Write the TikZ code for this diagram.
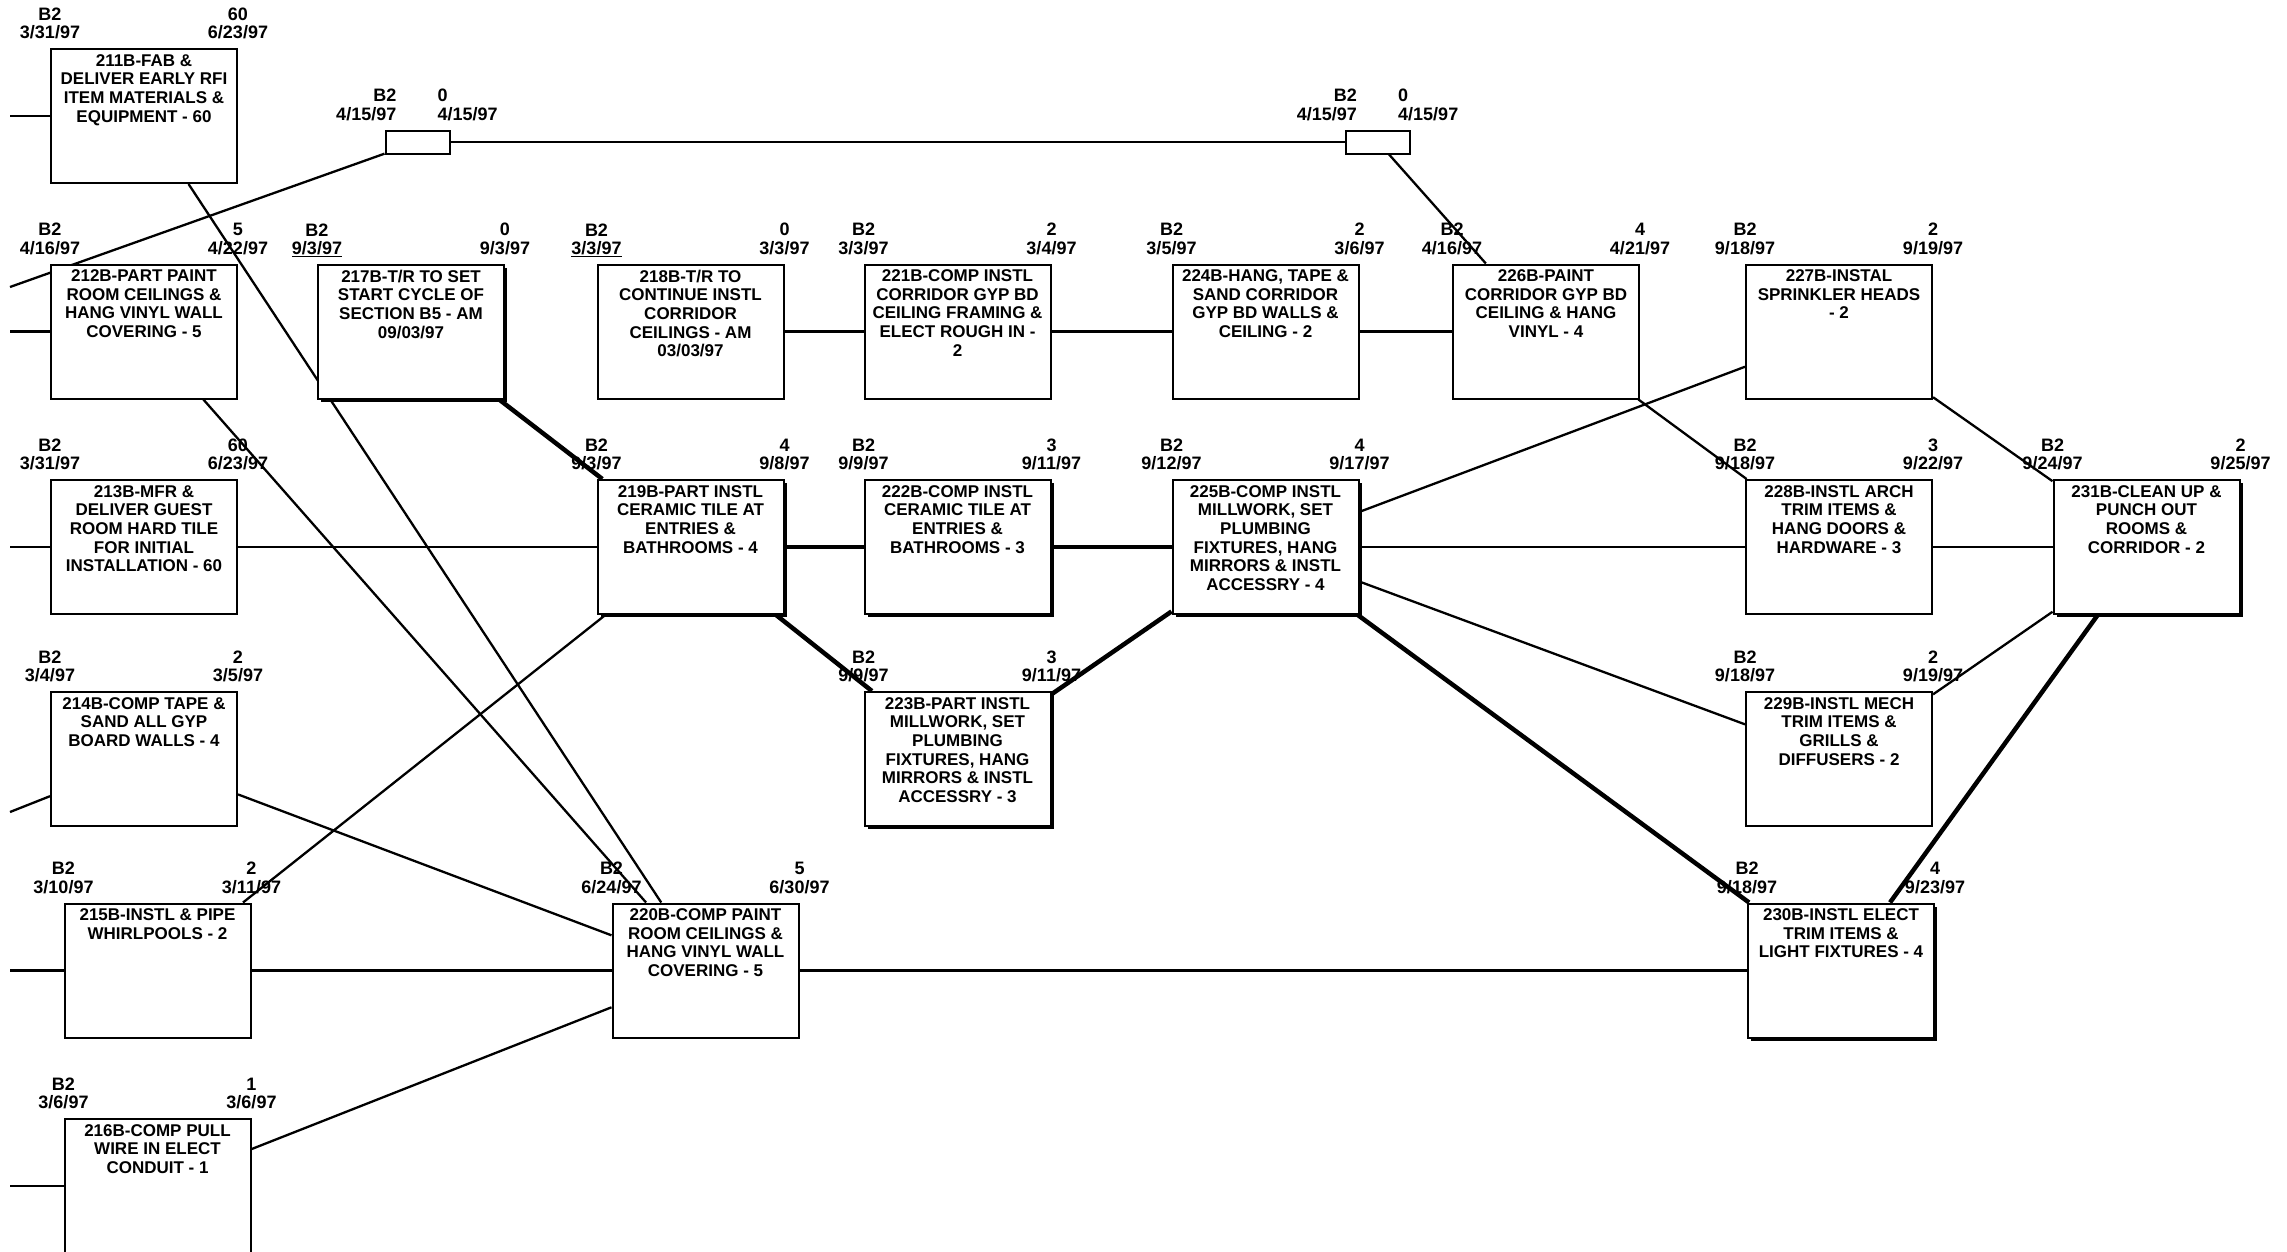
\documentclass[tikz,border=0pt]{standalone}
\usepackage{fontspec}
\setmainfont{Liberation Sans}
\usepackage{tikz}
\usetikzlibrary{shadows, backgrounds}

\begin{document}
\begin{tikzpicture}[x=1pt, y=-1pt]
    % Define styles
    \tikzstyle{act} = [rectangle, draw=black, fill=white, line width=2pt, minimum width=186pt, minimum height=134pt, inner sep=0pt]
    \tikzstyle{crit} = [act, drop shadow={fill=black, opacity=1, shadow xshift=3pt, shadow yshift=-3pt}]
    \tikzstyle{mile} = [rectangle, draw=black, fill=white, line width=2pt, minimum width=64pt, minimum height=23pt, inner sep=0pt]
    \tikzstyle{desc} = [anchor=north, align=center, inner sep=0pt, yshift=-6pt, font=\bfseries\fontsize{17}{18.7}\selectfont]
    \tikzstyle{datelbl} = [anchor=south, align=center, inner sep=0pt, yshift=8.5pt, font=\bfseries\fontsize{18}{18.7}\selectfont]
    \tikzstyle{rel} = [line width=2.3pt]
    \tikzstyle{critrel} = [line width=4.5pt]

    \useasboundingbox (0,0) rectangle (2287,1251);

    % Milestones
    \node[mile, label={[datelbl, anchor=south east, align=right, xshift=12pt]north west:{B2\\4/15/97}}, label={[datelbl, anchor=south west, align=left, xshift=-13pt]north east:{0\\4/15/97}}] (m1) at (417.5,142) {};
    \node[mile, label={[datelbl, anchor=south east, align=right, xshift=12pt]north west:{B2\\4/15/97}}, label={[datelbl, anchor=south west, align=left, xshift=-13pt]north east:{0\\4/15/97}}] (m2) at (1378,142) {};

    % Row 1
    \node[act, label={[desc]north:{211B-FAB \&\\DELIVER EARLY RFI\\ITEM MATERIALS \&\\EQUIPMENT - 60}}, label={[datelbl]north west:{B2\\3/31/97}}, label={[datelbl]north east:{60\\6/23/97}}] (a211) at (144,116) {};

    % Row 2
    \node[act, label={[desc]north:{212B-PART PAINT\\ROOM CEILINGS \&\\HANG VINYL WALL\\COVERING - 5}}, label={[datelbl]north west:{B2\\4/16/97}}, label={[datelbl]north east:{5\\4/22/97}}] (a212) at (144,331.5) {};
    \node[crit, label={[desc]north:{217B-T/R TO SET\\START CYCLE OF\\SECTION B5 - AM\\09/03/97}}, label={[datelbl]north west:{B2\\\smash{\underline{9/3/97}}}}, label={[datelbl]north east:{0\\9/3/97}}] (a217) at (411,331.5) {};
    \node[act, label={[desc]north:{218B-T/R TO\\CONTINUE INSTL\\CORRIDOR\\CEILINGS - AM\\03/03/97}}, label={[datelbl]north west:{B2\\\smash{\underline{3/3/97}}}}, label={[datelbl]north east:{0\\3/3/97}}] (a218) at (690.5,331.5) {};
    \node[act, label={[desc]north:{221B-COMP INSTL\\CORRIDOR GYP BD\\CEILING FRAMING \&\\ELECT ROUGH IN -\\2}}, label={[datelbl]north west:{B2\\3/3/97}}, label={[datelbl]north east:{2\\3/4/97}}] (a221) at (957.5,331.5) {};
    \node[act, label={[desc]north:{224B-HANG, TAPE \&\\SAND CORRIDOR\\GYP BD WALLS \&\\CEILING - 2}}, label={[datelbl]north west:{B2\\3/5/97}}, label={[datelbl]north east:{2\\3/6/97}}] (a224) at (1265.5,331.5) {};
    \node[act, label={[desc]north:{226B-PAINT\\CORRIDOR GYP BD\\CEILING \& HANG\\VINYL - 4}}, label={[datelbl]north west:{B2\\4/16/97}}, label={[datelbl]north east:{4\\4/21/97}}] (a226) at (1546,331.5) {};
    \node[act, label={[desc]north:{227B-INSTAL\\SPRINKLER HEADS\\- 2}}, label={[datelbl]north west:{B2\\9/18/97}}, label={[datelbl]north east:{2\\9/19/97}}] (a227) at (1839,331.5) {};

    % Row 3
    \node[act, label={[desc]north:{213B-MFR \&\\DELIVER GUEST\\ROOM HARD TILE\\FOR INITIAL\\INSTALLATION - 60}}, label={[datelbl]north west:{B2\\3/31/97}}, label={[datelbl]north east:{60\\6/23/97}}] (a213) at (144,547) {};
    \node[crit, label={[desc]north:{219B-PART INSTL\\CERAMIC TILE AT\\ENTRIES \&\\BATHROOMS - 4}}, label={[datelbl]north west:{B2\\9/3/97}}, label={[datelbl]north east:{4\\9/8/97}}] (a219) at (690.5,547) {};
    \node[crit, label={[desc]north:{222B-COMP INSTL\\CERAMIC TILE AT\\ENTRIES \&\\BATHROOMS - 3}}, label={[datelbl]north west:{B2\\9/9/97}}, label={[datelbl]north east:{3\\9/11/97}}] (a222) at (957.5,547) {};
    \node[crit, label={[desc]north:{225B-COMP INSTL\\MILLWORK, SET\\PLUMBING\\FIXTURES, HANG\\MIRRORS \& INSTL\\ACCESSRY - 4}}, label={[datelbl]north west:{B2\\9/12/97}}, label={[datelbl]north east:{4\\9/17/97}}] (a225) at (1265.5,547) {};
    \node[act, label={[desc]north:{228B-INSTL ARCH\\TRIM ITEMS \&\\HANG DOORS \&\\HARDWARE - 3}}, label={[datelbl]north west:{B2\\9/18/97}}, label={[datelbl]north east:{3\\9/22/97}}] (a228) at (1839,547) {};
    \node[crit, label={[desc]north:{231B-CLEAN UP \&\\PUNCH OUT\\ROOMS \&\\CORRIDOR - 2}}, label={[datelbl]north west:{B2\\9/24/97}}, label={[datelbl]north east:{2\\9/25/97}}] (a231) at (2146.5,547) {};

    % Row 4
    \node[act, label={[desc]north:{214B-COMP TAPE \&\\SAND ALL GYP\\BOARD WALLS - 4}}, label={[datelbl]north west:{B2\\3/4/97}}, label={[datelbl]north east:{2\\3/5/97}}] (a214) at (144,759) {};
    \node[crit, label={[desc]north:{223B-PART INSTL\\MILLWORK, SET\\PLUMBING\\FIXTURES, HANG\\MIRRORS \& INSTL\\ACCESSRY - 3}}, label={[datelbl]north west:{B2\\9/9/97}}, label={[datelbl]north east:{3\\9/11/97}}] (a223) at (957.5,759) {};
    \node[act, label={[desc]north:{229B-INSTL MECH\\TRIM ITEMS \&\\GRILLS \&\\DIFFUSERS - 2}}, label={[datelbl]north west:{B2\\9/18/97}}, label={[datelbl]north east:{2\\9/19/97}}] (a229) at (1839,759) {};

    % Row 5
    \node[act, label={[desc]north:{215B-INSTL \& PIPE\\WHIRLPOOLS - 2}}, label={[datelbl]north west:{B2\\3/10/97}}, label={[datelbl]north east:{2\\3/11/97}}] (a215) at (157.5,970.5) {};
    \node[act, label={[desc]north:{220B-COMP PAINT\\ROOM CEILINGS \&\\HANG VINYL WALL\\COVERING - 5}}, label={[datelbl]north west:{B2\\6/24/97}}, label={[datelbl]north east:{5\\6/30/97}}] (a220) at (705.5,970.5) {};
    \node[crit, label={[desc]north:{230B-INSTL ELECT\\TRIM ITEMS \&\\LIGHT FIXTURES - 4}}, label={[datelbl]north west:{B2\\9/18/97}}, label={[datelbl]north east:{4\\9/23/97}}] (a230) at (1841,970.5) {};

    % Row 6
    \node[act, label={[desc]north:{216B-COMP PULL\\WIRE IN ELECT\\CONDUIT - 1}}, label={[datelbl]north west:{B2\\3/6/97}}, label={[datelbl]north east:{1\\3/6/97}}] (a216) at (157.5,1186) {};

    % Links coming in from the left
    \coordinate (i211) at (10,116);
    \coordinate (im1) at (10,287);
    \coordinate (i212) at (10,331.5);
    \coordinate (i213) at (10,547);
    \coordinate (i214) at (10,812);
    \coordinate (i215) at (10,970.5);
    \coordinate (i216) at (10,1186);

    \begin{scope}[on background layer]
    % Plain links
    \draw[rel] (i211) -- (a211);
    \draw[rel] (im1) -- (m1);
    \draw[rel] (i212) -- (a212);
    \draw[rel] (i213) -- (a213);
    \draw[rel] (i214) -- (a214);
    \draw[rel] (i215) -- (a215);
    \draw[rel] (i216) -- (a216);
    \draw[rel] (m1) -- (m2);
    \draw[rel] (m2) -- (a226);
    \draw[rel] (a211) -- (a220);
    \draw[rel] (a212) -- (a220);
    \draw[rel] (a213) -- (a219);
    \draw[rel] (a214) -- (a220);
    \draw[rel] (a215) -- (a220);
    \draw[rel] (a215) -- (a219);
    \draw[rel] (a216) -- (a220);
    \draw[rel] (a218) -- (a221);
    \draw[rel] (a221) -- (a224);
    \draw[rel] (a224) -- (a226);
    \draw[rel] (a226) -- (a228);
    \draw[rel] (a225) -- (a227);
    \draw[rel] (a225) -- (a228);
    \draw[rel] (a225) -- (a229);
    \draw[rel] (a227) -- (a231);
    \draw[rel] (a228) -- (a231);
    \draw[rel] (a229) -- (a231);
    \draw[rel] (a220) -- (a230);
    % Critical links
    \draw[critrel] (a217) -- (a219);
    \draw[critrel] (a219) -- (a222);
    \draw[critrel] (a222) -- (a225);
    \draw[critrel] (a219) -- (a223);
    \draw[critrel] (a223) -- (a225);
    \draw[critrel] (a225) -- (a230);
    \draw[critrel] (a230) -- (a231);
    \end{scope}
\end{tikzpicture}
\end{document}
